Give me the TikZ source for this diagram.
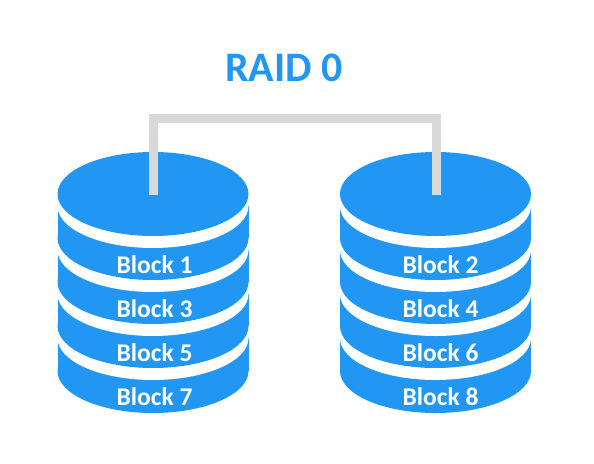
\documentclass[tikz,border=0pt]{standalone}
\usepackage{fontspec}
\setmainfont{Carlito}
\definecolor{diskblue}{HTML}{2196F3}
\definecolor{pipegray}{HTML}{D9D9D9}
\tikzset{
  x=1pt,y=-1pt,
  blocklabel/.style={text=white,font=\fontsize{25.5}{25.5}\selectfont\bfseries,inner sep=0pt,anchor=center},
  title/.style={text=diskblue,font=\fontsize{42}{42}\selectfont\bfseries,inner sep=0pt},
  pipe/.style={draw=pipegray,line width=9pt,miter limit=10}
}
\newcommand{\slab}[3]{% x center, top y, bottom y
  \fill[diskblue] (#1-95.5,#2) rectangle (#1+95.5,#3);
  \fill[diskblue] (#1,#3) ellipse [x radius=95.5,y radius=42];
  \fill[white] (#1,#2) ellipse [x radius=95.5,y radius=42];
}
\newcommand{\stack}[1]{%
  \slab{#1}{338}{371}
  \slab{#1}{294}{326}
  \slab{#1}{250}{282}
  \slab{#1}{206}{238}
  \fill[diskblue] (#1,194) ellipse [x radius=95.5,y radius=42];
}
\begin{document}
\begin{tikzpicture}
\useasboundingbox (0,0) rectangle (594,463);
\fill[white] (0,0) rectangle (594,463);
\stack{153}
\stack{435.5}
\coordinate (diskA) at (153.5,195);
\coordinate (diskB) at (436.5,195);
\coordinate (busA) at (153.5,118.5);
\draw[pipe] (diskA) -- (busA) -| (diskB);
\node[title] (raid) at (284,68) {RAID 0};
\node[blocklabel] (b1) at (154.5,265) {Block 1};
\node[blocklabel] (b3) at (154.5,308.5) {Block 3};
\node[blocklabel] (b5) at (154.5,352.5) {Block 5};
\node[blocklabel] (b7) at (154.5,397) {Block 7};
\node[blocklabel] (b2) at (440.5,265) {Block 2};
\node[blocklabel] (b4) at (440.5,308.5) {Block 4};
\node[blocklabel] (b6) at (440.5,352.5) {Block 6};
\node[blocklabel] (b8) at (440.5,397) {Block 8};
\end{tikzpicture}
\end{document}
